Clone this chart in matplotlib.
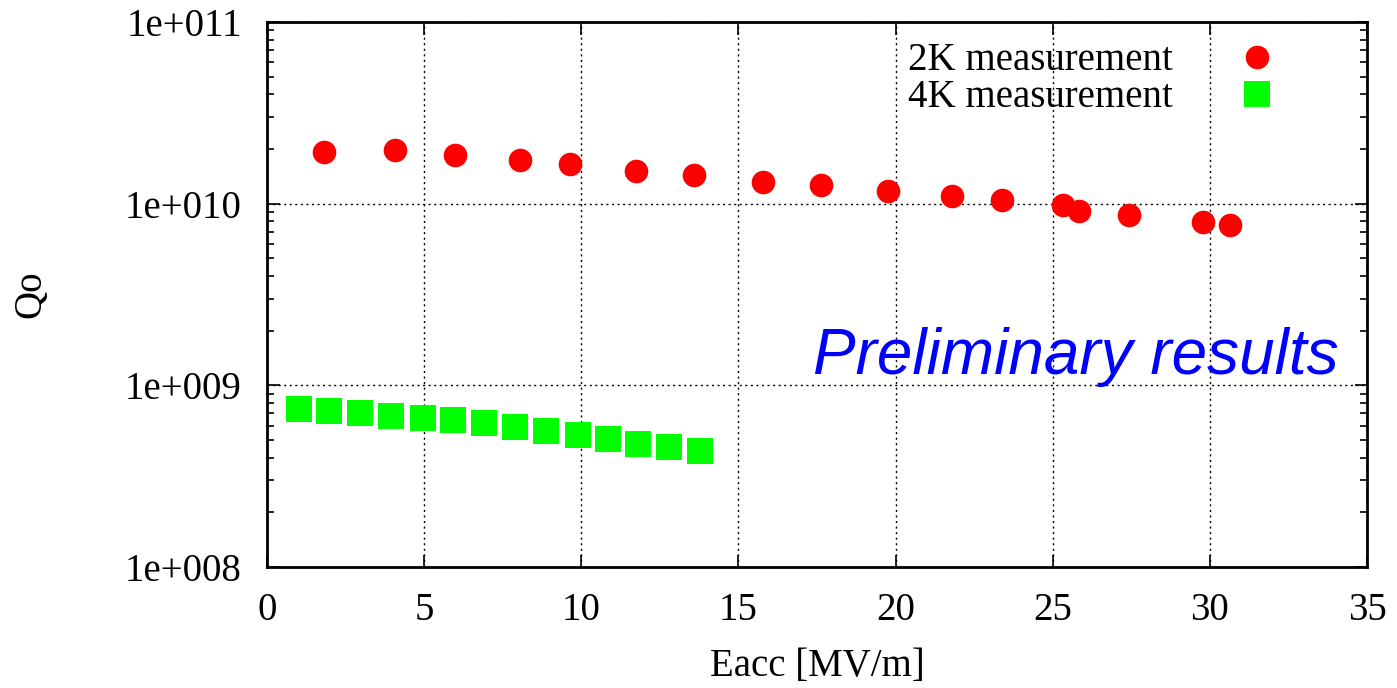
import numpy as np
import matplotlib
matplotlib.use("Agg")
import matplotlib.pyplot as plt
from matplotlib.ticker import LogLocator, FuncFormatter, MultipleLocator

# 2K measurement
eacc_2k = [1.82, 4.07, 5.98, 8.05, 9.65, 11.75, 13.60, 15.77, 17.63, 19.77,
           21.81, 23.40, 25.33, 25.84, 27.43, 29.79, 30.64]
q0_2k = [1.92e10, 1.98e10, 1.85e10, 1.74e10, 1.65e10, 1.52e10, 1.43e10, 1.32e10,
         1.26e10, 1.18e10, 1.10e10, 1.05e10, 9.84e9, 9.15e9, 8.62e9, 7.93e9, 7.64e9]

# 4K measurement
eacc_4k = [1.02, 1.97, 2.96, 3.95, 4.95, 5.92, 6.90, 7.89, 8.88, 9.90,
           10.85, 11.81, 12.79, 13.78]
q0_4k = [7.38e8, 7.19e8, 7.01e8, 6.75e8, 6.58e8, 6.41e8, 6.18e8, 5.87e8,
         5.58e8, 5.31e8, 5.05e8, 4.73e8, 4.56e8, 4.33e8]

plt.rcParams['font.family'] = ['Liberation Serif', 'DejaVu Serif']

fig = plt.figure(figsize=(13.97, 6.88), dpi=100)
ax = fig.add_axes([267 / 1397, 121 / 688, 1100 / 1397, 545 / 688])

ax.plot(eacc_2k, q0_2k, 'o', color='#ff0000', markersize=17, markeredgewidth=0,
        label='2K measurement')
ax.plot(eacc_4k, q0_4k, 's', color='#00ff00', markersize=19, markeredgewidth=0,
        label='4K measurement')

ax.set_yscale('log')
ax.set_xlim(0, 35)
ax.set_ylim(1e8, 1e11)
ax.xaxis.set_major_locator(MultipleLocator(5))
ax.yaxis.set_major_locator(LogLocator(base=10, numticks=10))
ax.yaxis.set_minor_locator(LogLocator(base=10, subs=np.arange(2, 10), numticks=20))
ax.yaxis.set_major_formatter(FuncFormatter(lambda v, p: "1e+%03d" % int(round(np.log10(v)))))
ax.yaxis.set_minor_formatter(FuncFormatter(lambda v, p: ""))

ax.tick_params(which='both', direction='in', top=True, right=True, labelsize=28, pad=18)
ax.tick_params(which='major', length=9, width=1.2)
ax.tick_params(which='minor', length=5, width=1.2)
for s in ax.spines.values():
    s.set_linewidth(2)

ax.grid(True, which='major', linestyle=(0, (1.5, 2.5)), color='black', linewidth=1)

ax.set_xlabel('Eacc [MV/m]', fontsize=28, labelpad=14)
ax.set_ylabel('Qo', fontsize=28)
ax.yaxis.set_label_coords(-0.198, 0.5)

ax.text(0.974, 0.385, 'Preliminary results', transform=ax.transAxes,
        fontsize=46, color='#0000ff', style='italic', family='Liberation Sans',
        ha='right', va='center')

ax.legend(loc='upper right', frameon=False, markerfirst=False, fontsize=28,
          handletextpad=1.18, labelspacing=0.0, borderaxespad=0.0,
          bbox_to_anchor=(0.9496, 0.991))

fig.savefig('out.png', dpi=100)
